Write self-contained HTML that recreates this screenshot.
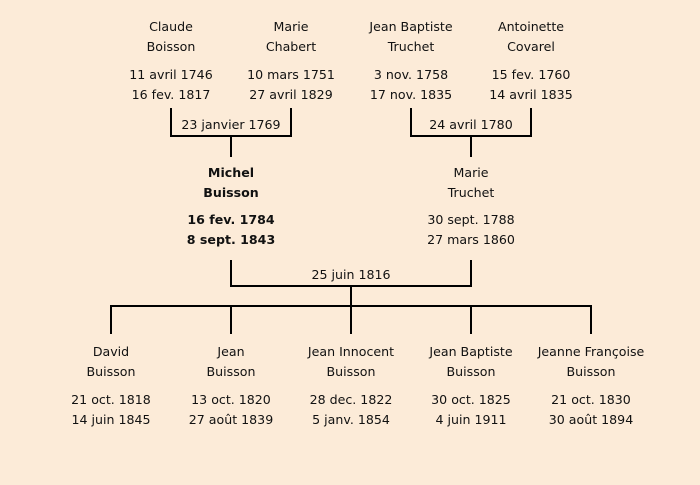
<!DOCTYPE html>
<html><head><style>
body{margin:0;width:700px;height:485px;background:#fcebd8;position:relative;overflow:hidden;font-family:"DejaVu Sans","Liberation Sans",sans-serif;font-size:12.6px;color:#111}
.t{position:absolute;width:160px;text-align:center;line-height:20px;white-space:nowrap}
.b{font-weight:bold}
.l{position:absolute;background:#000}
</style></head><body>
<div class="t" style="left:91px;top:17px">Claude<br>Boisson</div>
<div class="t" style="left:91px;top:65px">11 avril 1746<br>16 fev. 1817</div>
<div class="t" style="left:211px;top:17px">Marie<br>Chabert</div>
<div class="t" style="left:211px;top:65px">10 mars 1751<br>27 avril 1829</div>
<div class="t" style="left:331px;top:17px">Jean Baptiste<br>Truchet</div>
<div class="t" style="left:331px;top:65px">3 nov. 1758<br>17 nov. 1835</div>
<div class="t" style="left:451px;top:17px">Antoinette<br>Covarel</div>
<div class="t" style="left:451px;top:65px">15 fev. 1760<br>14 avril 1835</div>

<div class="l" style="left:170px;top:108px;width:2px;height:29px"></div>
<div class="l" style="left:290px;top:108px;width:2px;height:29px"></div>
<div class="l" style="left:170px;top:135px;width:122px;height:2px"></div>
<div class="l" style="left:230px;top:135px;width:2px;height:22px"></div>
<div class="t" style="left:151px;top:115px">23 janvier 1769</div>

<div class="l" style="left:410px;top:108px;width:2px;height:29px"></div>
<div class="l" style="left:530px;top:108px;width:2px;height:29px"></div>
<div class="l" style="left:410px;top:135px;width:122px;height:2px"></div>
<div class="l" style="left:470px;top:135px;width:2px;height:22px"></div>
<div class="t" style="left:391px;top:115px">24 avril 1780</div>

<div class="t b" style="left:151px;top:163px">Michel<br>Buisson</div>
<div class="t b" style="left:151px;top:210px">16 fev. 1784<br>8 sept. 1843</div>
<div class="t" style="left:391px;top:163px">Marie<br>Truchet</div>
<div class="t" style="left:391px;top:210px">30 sept. 1788<br>27 mars 1860</div>

<div class="l" style="left:230px;top:260px;width:2px;height:27px"></div>
<div class="l" style="left:470px;top:260px;width:2px;height:27px"></div>
<div class="l" style="left:230px;top:285px;width:242px;height:2px"></div>
<div class="l" style="left:350px;top:285px;width:2px;height:22px"></div>
<div class="t" style="left:271px;top:265px">25 juin 1816</div>
<div class="l" style="left:110px;top:305px;width:482px;height:2px"></div>
<div class="l" style="left:110px;top:305px;width:2px;height:29px"></div>
<div class="l" style="left:230px;top:305px;width:2px;height:29px"></div>
<div class="l" style="left:350px;top:305px;width:2px;height:29px"></div>
<div class="l" style="left:470px;top:305px;width:2px;height:29px"></div>
<div class="l" style="left:590px;top:305px;width:2px;height:29px"></div>

<div class="t" style="left:31px;top:342px">David<br>Buisson</div>
<div class="t" style="left:31px;top:390px">21 oct. 1818<br>14 juin 1845</div>
<div class="t" style="left:151px;top:342px">Jean<br>Buisson</div>
<div class="t" style="left:151px;top:390px">13 oct. 1820<br>27 août 1839</div>
<div class="t" style="left:271px;top:342px">Jean Innocent<br>Buisson</div>
<div class="t" style="left:271px;top:390px">28 dec. 1822<br>5 janv. 1854</div>
<div class="t" style="left:391px;top:342px">Jean Baptiste<br>Buisson</div>
<div class="t" style="left:391px;top:390px">30 oct. 1825<br>4 juin 1911</div>
<div class="t" style="left:511px;top:342px">Jeanne Françoise<br>Buisson</div>
<div class="t" style="left:511px;top:390px">21 oct. 1830<br>30 août 1894</div>
</body></html>
